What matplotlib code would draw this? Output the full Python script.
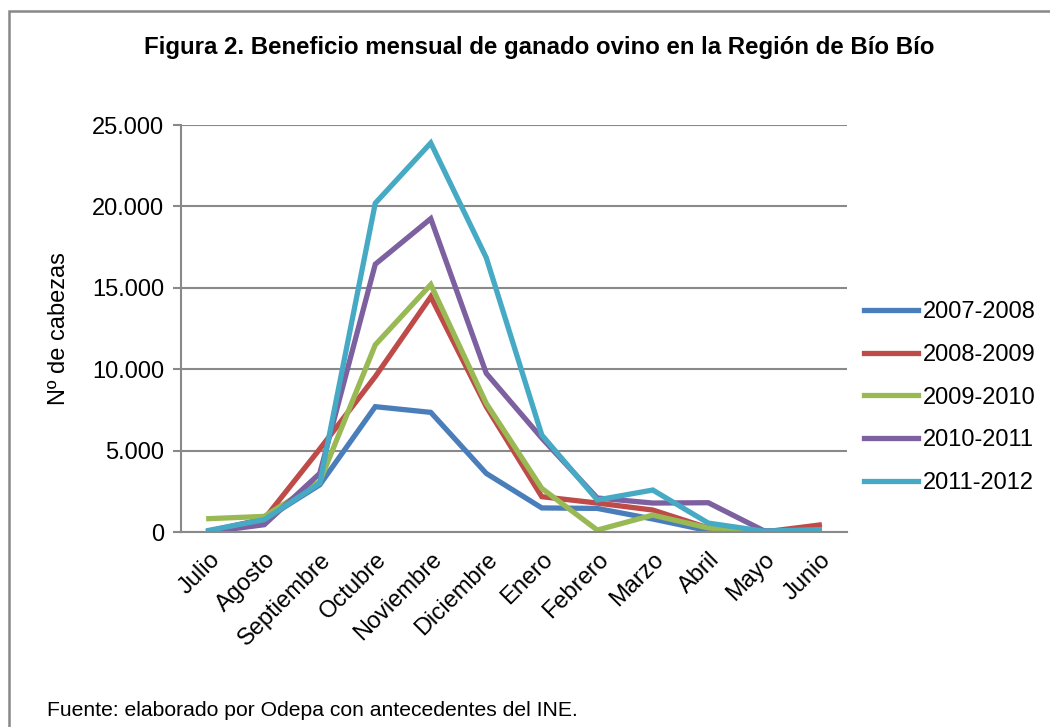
import matplotlib
matplotlib.use("Agg")
import matplotlib.pyplot as plt
from matplotlib.patches import Rectangle

plt.rcParams['font.family'] = ['Liberation Sans', 'DejaVu Sans']

meses = ['Julio', 'Agosto', 'Septiembre', 'Octubre', 'Noviembre', 'Diciembre',
         'Enero', 'Febrero', 'Marzo', 'Abril', 'Mayo', 'Junio']

s_2007 = [50, 750, 2900, 7700, 7350, 3600, 1480, 1450, 800, 80, 0, 30]
s_2008 = [50, 800, 5100, 9550, 14450, 7700, 2170, 1780, 1350, 250, 0, 430]
s_2009 = [820, 960, 3100, 11500, 15200, 7900, 2680, 120, 1040, 250, 0, 50]
s_2010 = [0, 450, 3600, 16450, 19250, 9750, 5770, 2090, 1780, 1800, 80, 0]
s_2011 = [100, 760, 3000, 20200, 23900, 16850, 5960, 1970, 2580, 550, 50, 150]

series = ['2007-2008', '2008-2009', '2009-2010', '2010-2011', '2011-2012']
valores = [s_2007, s_2008, s_2009, s_2010, s_2011]
colores = ['#4A7EBB', '#BE4B48', '#98B954', '#7D60A0', '#46AAC5']

fig = plt.figure(figsize=(10.5, 7.27), dpi=100)
ax = fig.add_axes([0.1724, 0.2682, 0.6343, 0.5598])

x = range(len(meses))
for nombre, ys, c in zip(series, valores, colores):
    ax.plot(x, ys, color=c, lw=3.8, label=nombre, solid_joinstyle='miter')

ax.set_xlim(-0.5, len(meses) - 0.5)
ax.set_ylim(0, 25000)
ax.set_yticks(range(0, 25001, 5000))
ax.set_yticklabels(['0', '5.000', '10.000', '15.000', '20.000', '25.000'], fontsize=17)
ax.set_xticks(list(x))
ax.set_xticklabels(meses, rotation=45, ha='right', rotation_mode='anchor', fontsize=17)
ax.tick_params(axis='x', length=0, pad=12)
ax.tick_params(axis='y', length=6, width=1.5, color='#898989', pad=6)
ax.grid(axis='y', color='#898989', lw=1.5)
ax.set_axisbelow(True)
for s in ['top', 'right']:
    ax.spines[s].set_visible(False)
for s in ['left', 'bottom']:
    ax.spines[s].set_color('#898989')
    ax.spines[s].set_linewidth(1.5)
ax.set_ylabel('Nº de cabezas', fontsize=17, labelpad=16)

ax.legend(loc='center left', bbox_to_anchor=(1.0, 0.33), frameon=False, fontsize=17,
          handlelength=2.3, handletextpad=0.2, labelspacing=0.88, borderaxespad=0.3)

fig.text(0.514, 0.935, 'Figura 2. Beneficio mensual de ganado ovino en la Región de Bío Bío',
         ha='center', va='center', fontsize=17.3, fontweight='bold')
fig.text(0.045, 0.023, 'Fuente: elaborado por Odepa con antecedentes del INE.',
         ha='left', va='center', fontsize=15.2)

fig.add_artist(Rectangle((9 / 1050, -0.1), 1.2, 1 - 10.5 / 727 + 0.1, transform=fig.transFigure,
                         fill=False, edgecolor='#888888', lw=1.8))

fig.savefig('out.png', dpi=100)
